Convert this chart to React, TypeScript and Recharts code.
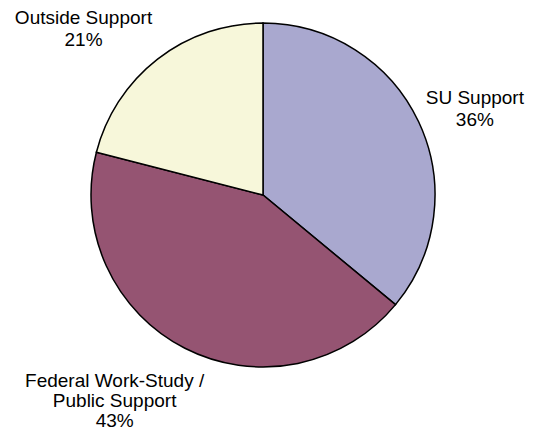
import { PieChart, Pie, Cell } from "recharts";

const categories = ["SU Support", "Federal Work-Study / Public Support", "Outside Support"];
const shares = [36, 43, 21];
const labelLines = [["SU Support", "36%"], ["Federal Work-Study /", "Public Support", "43%"], ["Outside Support", "21%"]];

const colors = ["#A9A8CF", "#955472", "#F7F7DA"];
// label centre, polar from pie centre: [distance, angle in degrees]
const labelPos: [number, number][] = [[229, 22.3], [253, -125.9], [245, 137.1]];
const lineHeights = [22, 20, 22];

const data = categories.map((name, i) => ({ name, value: shares[i] }));

const RADIAN = Math.PI / 180;

const renderLabel = (props: any) => {
  const { cx, cy, index } = props;
  const [dist, ang] = labelPos[index];
  const x = cx + dist * Math.cos(ang * RADIAN);
  const y = cy - dist * Math.sin(ang * RADIAN);
  const lines = labelLines[index];
  const lh = lineHeights[index];
  const y0 = y - ((lines.length - 1) * lh) / 2;
  return (
    <text
      x={x}
      y={y0}
      textAnchor="middle"
      dominantBaseline="central"
      fill="#000"
      fontSize={19}
      fontFamily="Liberation Sans, Arial, sans-serif"
    >
      {lines.map((l, j) => (
        <tspan key={j} x={x} y={y0 + j * lh} dominantBaseline="central">
          {l}
        </tspan>
      ))}
    </text>
  );
};

export default function App() {
  return (
    <div style={{ position: "fixed", left: 0, top: 0, width: 540, height: 432, background: "#fff" }}>
      <PieChart width={540} height={432} margin={{ top: 0, right: 0, bottom: 0, left: 0 }}>
        <Pie
          data={data}
          dataKey="value"
          nameKey="name"
          cx={263}
          cy={195}
          outerRadius={172}
          startAngle={90}
          endAngle={-270}
          stroke="#000"
          strokeWidth={1.5}
          label={renderLabel}
          labelLine={false}
          isAnimationActive={false}
        >
          {data.map((d, i) => (
            <Cell key={d.name} fill={colors[i]} />
          ))}
        </Pie>
      </PieChart>
    </div>
  );
}
